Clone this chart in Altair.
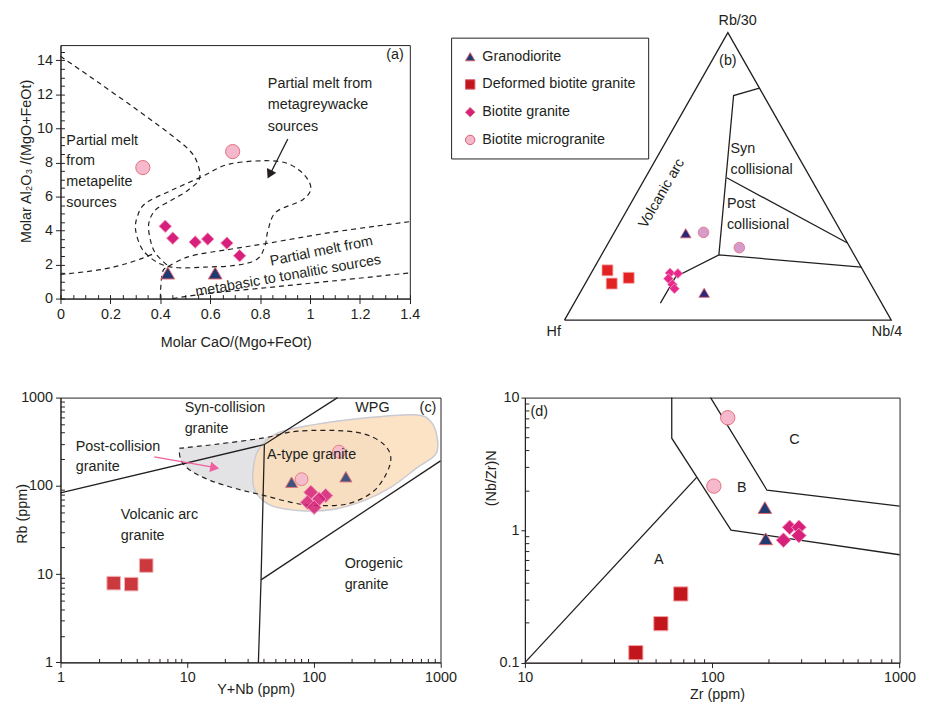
import altair as alt
import pandas as pd

FONT = "Liberation Sans"
INK = "#231f20"
FS = 14.5

GROUPS = ["Granodiorite", "Deformed biotite granite", "Biotite granite", "Biotite microgranite"]
SHAPES = ["triangle-up", "square", "diamond", "circle"]
FILLS = ["#1f3b72", "#c3161c", "#d6207b", "#f5b8cd"]
FILLS_B = ["#29287a", "#e32222", "#e8288b", "#d69bcb"]
STROKES = ["#e0646e", "#f2a3a6", "#f59ac0", "#e0707a"]

# ---------------- panel (a) data ----------------
a_gd_x = [0.43, 0.62]
a_gd_y = [1.5, 1.5]
a_bg_x = [0.42, 0.45, 0.54, 0.59, 0.667, 0.718]
a_bg_y = [4.25, 3.55, 3.32, 3.5, 3.26, 2.52]
a_mg_x = [0.33, 0.69]
a_mg_y = [7.7, 8.64]

a_pelite_x = [0.0, 0.511, 0.545, 0.557, 0.511, 0.446, 0.38, 0.354, 0.36, 0.38, 0.433]
a_pelite_y = [14.24, 8.8, 8.1, 7.05, 6.37, 5.79, 5.2, 4.43, 3.46, 2.68, 1.9]
a_left_x = [0.0, 0.17, 0.27, 0.33, 0.38]
a_left_y = [1.42, 1.72, 2.08, 2.38, 2.68]
a_loop_x = [0.681, 0.563, 0.446, 0.34, 0.308, 0.301, 0.321, 0.354, 0.406, 0.472, 0.58, 0.70,
            0.786, 0.819, 0.832, 0.865, 0.97, 1.003, 0.957, 0.865]
a_loop_y = [7.92, 7.14, 6.37, 5.59, 4.81, 4.04, 3.07, 2.48, 2.0, 1.81, 1.85, 1.95,
            2.29, 3.07, 4.04, 5.1, 5.8, 6.57, 7.54, 8.08]
a_basic_up_x = [0.433, 0.511, 0.68, 0.83, 1.09, 1.4]
a_basic_up_y = [1.9, 2.45, 2.9, 3.25, 3.9, 4.52]
a_basic_v_x = [0.40, 0.413, 0.433]
a_basic_v_y = [0.0, 1.7, 1.9]
a_basic_lo_x = [0.45, 0.563, 0.826, 1.088, 1.4]
a_basic_lo_y = [0.0, 0.25, 0.64, 1.03, 1.51]
a_arrow_x = [0.911, 0.845]
a_arrow_y = [9.38, 7.45]
a_head = (0.838, 7.3)

a_text_left = [("Partial melt from", 0.831, 12.6), ("metagreywacke", 0.831, 11.38),
               ("sources", 0.831, 10.1), ("Partial melt", 0.0236, 9.28), ("from", 0.0236, 8.08),
               ("metapelite", 0.0236, 6.85), ("sources", 0.0236, 5.63)]
a_text_center = [("(a)", 1.341, 14.34)]
a_text_rot1 = [("Partial melt from", 1.046, 2.77)]
a_text_rot2 = [("metabasic to tonalitic sources", 0.913, 1.32)]

# ---------------- panel (b) data (Hf, Nb/4, Rb/30 in %) ----------------
b_gd = ([47.8, 52.5], [22.0, 38.0], [30.2, 9.5])
b_def = ([78.2, 79.2, 73.0], [4.5, 8.1, 12.3], [17.3, 12.7, 14.7])
b_bg = ([59.5, 57.2, 61.0, 60.8, 60.9], [24.1, 26.6, 24.6, 26.8, 28.2], [16.4, 16.2, 14.4, 12.4, 10.9])
b_mg = ([42.2, 33.9], [27.3, 40.9], [30.5, 25.2])

b_frame = ([100, 0, 0, 100], [0, 100, 0, 0], [0, 0, 100, 0])
b_arc = ([67.7, 58.4, 41.4, 0.0], [26.4, 26.5, 35.9, 81.6], [5.9, 15.1, 22.7, 18.4])
b_vert = ([41.4, 9.2, 0.0], [35.9, 12.7, 19.3], [22.7, 78.1, 80.7])
b_synpost = ([25.6, 0.0], [24.9, 73.2], [49.5, 26.8])

b_text_center = [("Rb/30", 0.53, 1.04), ("(b)", 0.5, 0.9), ("Hf", -0.033, -0.042), ("Nb/4", 0.987, -0.042)]
b_text_left = [("Syn", 0.508, 0.595), ("collisional", 0.508, 0.523),
               ("Post", 0.497, 0.403), ("collisional", 0.497, 0.33)]
b_text_rot = [("Volcanic arc", 0.298, 0.44)]

# ---------------- panel (c) data ----------------
c_gd_x = [66.7, 179]
c_gd_y = [110, 127]
c_def_x = [2.63, 3.62, 4.75]
c_def_y = [7.9, 7.7, 12.5]
c_bg_x = [94.6, 124, 110, 89, 100.6]
c_bg_y = [84.6, 77.6, 71, 65, 57]
c_mg_x = [80, 158]
c_mg_y = [119, 244]

c_l1_x = [1, 40.7, 154]
c_l1_y = [83, 294, 1000]
c_l2_x = [36.5, 38.3, 40.7]
c_l2_y = [1, 8.6, 294]
c_l3_x = [38.3, 1000]
c_l3_y = [8.6, 192]
c_post_x = [8.7, 9.0, 10.7, 15.5, 25, 40.7, 66, 100.7, 184, 299, 392, 392, 299, 184, 74.5, 40.7, 16.4, 9.5]
c_post_y = [259, 192, 148, 114, 92, 77.6, 65, 60, 62.5, 88, 161, 248, 350, 417, 417, 350, 294, 270]
c_atype_x = [32.9, 36, 51.8, 100.7, 249, 618, 834, 942, 914, 656, 404, 249, 136, 74.5, 45.8, 34.9]
c_atype_y = [125, 248, 398, 494, 587, 640, 540, 350, 227, 161, 96, 68, 53.5, 52.7, 60, 84.6]
c_arrow_x = [5.5, 15.5]
c_arrow_y = [213, 164]
c_head = (16.5, 161)

c_text_left = [("Syn-collision", 9.55, 760), ("granite", 9.55, 442), ("Post-collision", 1.32, 277),
               ("granite", 1.32, 164), ("A-type granite", 42.7, 224), ("Volcanic arc", 2.99, 46.3),
               ("granite", 2.99, 26.9), ("Orogenic", 175, 12.9), ("granite", 175, 7.59)]
c_text_center = [("WPG", 290, 760), ("(c)", 796, 755)]

# ---------------- panel (d) data ----------------
d_gd_x = [191, 193]
d_gd_y = [1.48, 0.86]
d_def_x = [67.9, 53.2, 39.1]
d_def_y = [0.33, 0.197, 0.119]
d_bg_x = [259, 290, 290, 240]
d_bg_y = [1.05, 1.05, 0.91, 0.84]
d_mg_x = [121, 102]
d_mg_y = [7.05, 2.15]

d_la_x = [10, 82.6]
d_la_y = [0.1, 2.5]
d_lb_x = [60.8, 60.8, 126, 1000]
d_lb_y = [10, 4.94, 1.0, 0.652]
d_lc_x = [98, 196, 1000]
d_lc_y = [10, 2.0, 1.52]

d_text_left = [("(d)", 10.7, 7.82)]
d_text_center = [("C", 275, 4.8), ("B", 143.6, 2.09), ("A", 51.8, 0.592)]

# ---------------- helpers ----------------
LEGEND = alt.Legend(title=None, orient="none", legendX=394.5, legendY=-7.5, labelFont=FONT,
                    labelFontSize=FS, labelColor=INK, symbolSize=90, rowPadding=13, padding=12,
                    strokeColor=INK, fillColor="white", symbolStrokeColor="#d0606a",
                    symbolStrokeWidth=1, labelOffset=5)
COLOR_ENC = alt.Color("group:N", scale=alt.Scale(domain=GROUPS, range=FILLS), legend=LEGEND)
SHAPE_ENC = alt.Shape("group:N", scale=alt.Scale(domain=GROUPS, range=SHAPES), legend=LEGEND)


def seg_df(segs):
    rows = []
    for name, xs, ys in segs:
        for i, (x, y) in enumerate(zip(xs, ys)):
            rows.append({"seg": name, "ord": i, "x": x, "y": y})
    return pd.DataFrame(rows)


def text_df(items):
    return pd.DataFrame([{"x": x, "y": y, "t": t} for t, x, y in items])


def enc(xs, ys):
    return dict(x=alt.X("x:Q", scale=xs, axis=None), y=alt.Y("y:Q", scale=ys, axis=None))


def lines(segs, xs, ys, **mk):
    return alt.Chart(seg_df(segs)).mark_line(**mk).encode(
        **enc(xs, ys), detail="seg:N", order="ord:Q")


def texts(items, xs, ys, **mk):
    style = dict(font=FONT, fontSize=FS, color=INK, baseline="middle")
    style.update(mk)
    return alt.Chart(text_df(items)).mark_text(**style).encode(**enc(xs, ys), text="t:N")


def points(groups, xs, ys, sizes, opacity=1.0):
    out = []
    for g, px, py in groups:
        i = GROUPS.index(g)
        df = pd.DataFrame({"x": px, "y": py, "group": g})
        out.append(alt.Chart(df).mark_point(filled=True, size=sizes[i], stroke=STROKES[i],
                                            strokeWidth=1, opacity=opacity).encode(
            **enc(xs, ys), color=COLOR_ENC, shape=SHAPE_ENC))
    return out


def axes(xs, ys, xaxis, yaxis, x0, y0):
    df = pd.DataFrame({"x": [x0], "y": [y0]})
    return alt.Chart(df).mark_point(opacity=0).encode(
        x=alt.X("x:Q", scale=xs, axis=xaxis), y=alt.Y("y:Q", scale=ys, axis=yaxis))


def minor(orient, offset, values):
    return alt.Axis(orient=orient, offset=offset, values=values, labels=False, domain=False,
                    tickSize=4, title=None, grid=False)


# ---------------- panel (a) ----------------
WA, HA = 352.8, 256
xa = alt.Scale(domain=[0, 1.4], nice=False, zero=False)
ya = alt.Scale(domain=[0, 14.9], nice=False, zero=False)
a_main = axes(xa, ya,
              alt.Axis(orient="bottom", values=[0, 0.2, 0.4, 0.6, 0.8, 1, 1.2, 1.4], format="~g",
                       labelFlush=False, tickSize=5, labelPadding=4, title="Molar CaO/(Mgo+FeOt)",
                       titleX=177, titleY=44, titleBaseline="middle"),
              alt.Axis(orient="left", values=[0, 2, 4, 6, 8, 10, 12, 14], format="d", tickSize=5,
                       labelPadding=3, title="Molar Al₂O₃ /(MgO+FeOt)", titleX=-34.5, titleY=117,
                       titleBaseline="middle"),
              0, 0)
a_minor = axes(xa, ya,
               minor("top", -HA, [round(0.05 * i, 2) for i in range(29)]),
               minor("right", -WA, [0.5 * i for i in range(30)]),
               0, 0)
a_dash = lines([("pelite", a_pelite_x, a_pelite_y), ("left", a_left_x, a_left_y),
                ("up", a_basic_up_x, a_basic_up_y), ("v", a_basic_v_x, a_basic_v_y),
                ("lo", a_basic_lo_x, a_basic_lo_y)],
               xa, ya, color=INK, strokeWidth=1.2, strokeDash=[5, 4], interpolate="catmull-rom")
a_loop = lines([("loop", a_loop_x, a_loop_y)], xa, ya, color=INK, strokeWidth=1.2,
               strokeDash=[5, 4], interpolate="cardinal-closed")
a_arrow = lines([("arrow", a_arrow_x, a_arrow_y)], xa, ya, color=INK, strokeWidth=1.3)
a_arrowhead = alt.Chart(pd.DataFrame({"x": [a_head[0]], "y": [a_head[1]]})).mark_point(
    shape="triangle-down", angle=26.5, filled=True, size=110, color=INK, opacity=1).encode(**enc(xa, ya))
a_layers = [a_main, a_minor, a_dash, a_loop, a_arrow, a_arrowhead]
a_layers += points([("Granodiorite", a_gd_x, a_gd_y), ("Biotite granite", a_bg_x, a_bg_y),
                    ("Biotite microgranite", a_mg_x, a_mg_y)], xa, ya, [190, 190, 160, 205])
a_layers += [texts(a_text_left, xa, ya, align="left"), texts(a_text_center, xa, ya, align="center"),
             texts(a_text_rot1, xa, ya, align="center", angle=348.5),
             texts(a_text_rot2, xa, ya, align="center", angle=350)]
panel_a = alt.layer(*a_layers).resolve_axis(x="independent", y="independent").properties(
    width=WA, height=HA)

# ---------------- panel (b) ----------------
WB, HB = 374, 256
xb = alt.Scale(domain=[-0.12121, 1.01212], nice=False, zero=False)
yb = alt.Scale(domain=[0.07475, 0.9566], nice=False, zero=False)
TX = "(datum.nb + datum.rb / 2) / (datum.hf + datum.nb + datum.rb)"
TY = "datum.rb / (datum.hf + datum.nb + datum.rb)"


def tern_lines(segs, **mk):
    rows = []
    for name, (hf, nb, rb) in segs:
        for i in range(len(hf)):
            rows.append({"seg": name, "ord": i, "hf": hf[i], "nb": nb[i], "rb": rb[i]})
    return alt.Chart(pd.DataFrame(rows)).transform_calculate(x=TX, y=TY).mark_line(**mk).encode(
        **enc(xb, yb), detail="seg:N", order="ord:Q")


b_layers = [tern_lines([("frame", b_frame), ("arc", b_arc), ("vert", b_vert), ("sp", b_synpost)],
                       color=INK, strokeWidth=1.3)]
for g, (hf, nb, rb) in [("Granodiorite", b_gd), ("Deformed biotite granite", b_def),
                        ("Biotite granite", b_bg), ("Biotite microgranite", b_mg)]:
    i = GROUPS.index(g)
    df = pd.DataFrame({"hf": hf, "nb": nb, "rb": rb, "group": g})
    b_layers.append(alt.Chart(df).transform_calculate(x=TX, y=TY).mark_point(
        filled=True, size=[115, 121, 100, 115][i], stroke=STROKES[i], strokeWidth=0.8, opacity=1).encode(
        **enc(xb, yb),
        fill=alt.Fill("group:N", scale=alt.Scale(domain=GROUPS, range=FILLS_B), legend=None),
        shape=SHAPE_ENC))
b_layers += [texts(b_text_center, xb, yb, align="center"), texts(b_text_left, xb, yb, align="left"),
             texts(b_text_rot, xb, yb, align="center", angle=300)]
panel_b = alt.layer(*b_layers).properties(width=WB, height=HB,
                                          view=alt.ViewBackground(strokeOpacity=0))

# ---------------- panel (c) ----------------
WC, HC = 383.8, 267.4
xc = alt.Scale(type="log", domain=[1, 1000], nice=False)
yc = alt.Scale(type="log", domain=[1, 1000], nice=False)
MINOR_LOG = [2, 3, 4, 5, 6, 7, 8, 9, 20, 30, 40, 50, 60, 70, 80, 90, 200, 300, 400, 500, 600, 700, 800, 900]
c_main = axes(xc, yc,
              alt.Axis(orient="bottom", values=[1, 10, 100, 1000], format="~g", labelFlush=False,
                       tickSize=5, labelPadding=3, title="Y+Nb (ppm)", titleX=197, titleY=27,
                       titleBaseline="middle"),
              alt.Axis(orient="left", values=[1, 10, 100, 1000], format="~g", tickSize=5,
                       labelPadding=3, title="Rb (ppm)", titleX=-38.5, titleY=117,
                       titleBaseline="middle"),
              10, 10)
c_minor = axes(xc, yc, minor("top", -HC, MINOR_LOG), minor("right", -WC, MINOR_LOG), 10, 10)
c_gray = lines([("post", c_post_x, c_post_y)], xc, yc, fill="#e3e3e5", strokeOpacity=0,
               interpolate="cardinal-closed")
c_orange = lines([("atype", c_atype_x, c_atype_y)], xc, yc, fill="#fbdcb8", fillOpacity=0.8,
                 color="#c9cad3", strokeWidth=1.5, interpolate="cardinal-closed")
c_dash = lines([("post", c_post_x, c_post_y)], xc, yc, color=INK, strokeWidth=1.2,
               strokeDash=[5, 4], interpolate="cardinal-closed")
c_solid = lines([("l1", c_l1_x, c_l1_y), ("l2", c_l2_x, c_l2_y), ("l3", c_l3_x, c_l3_y)], xc, yc,
                color=INK, strokeWidth=1.3)
c_arrow = lines([("arrow", c_arrow_x, c_arrow_y)], xc, yc, color="#f0609f", strokeWidth=1.5)
c_arrowhead = alt.Chart(pd.DataFrame({"x": [c_head[0]], "y": [c_head[1]]})).mark_point(
    shape="triangle-right", angle=10, filled=True, size=110, color="#f0609f", opacity=1).encode(**enc(xc, yc))
c_layers = [c_main, c_minor, c_gray, c_orange, c_dash, c_solid, c_arrow, c_arrowhead]
c_layers += points([("Granodiorite", c_gd_x, c_gd_y), ("Deformed biotite granite", c_def_x, c_def_y),
                    ("Biotite granite", c_bg_x, c_bg_y), ("Biotite microgranite", c_mg_x, c_mg_y)],
                   xc, yc, [150, 187, 210, 169], opacity=0.85)
c_layers += [texts(c_text_left, xc, yc, align="left"), texts(c_text_center, xc, yc, align="center")]
panel_c = alt.layer(*c_layers).resolve_axis(x="independent", y="independent").properties(
    width=WC, height=HC)

# ---------------- panel (d) ----------------
WD, HD = 378.4, 267.7
xd = alt.Scale(type="log", domain=[10, 1000], nice=False)
yd = alt.Scale(type="log", domain=[0.1, 10], nice=False)
d_main = axes(xd, yd,
              alt.Axis(orient="bottom", values=[10, 100, 1000], format="~g", labelFlush=False,
                       tickSize=5, labelPadding=3, title="Zr (ppm)", titleX=194, titleY=32,
                       titleBaseline="middle"),
              alt.Axis(orient="left", values=[0.1, 1, 10], format="~g", tickSize=4,
                       labelPadding=2, title="(Nb/Zr)N", titleX=-34, titleY=81,
                       titleBaseline="middle"),
              100, 1)
d_minor = axes(xd, yd,
               minor("top", -HD, [20, 30, 40, 50, 60, 70, 80, 90, 200, 300, 400, 500, 600, 700, 800, 900]),
               minor("right", -WD, [0.2, 0.3, 0.4, 0.5, 0.6, 0.7, 0.8, 0.9, 2, 3, 4, 5, 6, 7, 8, 9]),
               100, 1)
d_solid = lines([("a", d_la_x, d_la_y), ("b", d_lb_x, d_lb_y), ("c", d_lc_x, d_lc_y)], xd, yd,
                color=INK, strokeWidth=1.3)
d_layers = [d_main, d_minor, d_solid]
d_layers += points([("Granodiorite", d_gd_x, d_gd_y), ("Deformed biotite granite", d_def_x, d_def_y),
                    ("Biotite granite", d_bg_x, d_bg_y), ("Biotite microgranite", d_mg_x, d_mg_y)],
                   xd, yd, [188, 205, 220, 210])
d_layers += [texts(d_text_left, xd, yd, align="left"), texts(d_text_center, xd, yd, align="center")]
panel_d = alt.layer(*d_layers).resolve_axis(x="independent", y="independent").properties(
    width=WD, height=HD)

# ---------------- layout ----------------
chart = alt.concat(panel_a, panel_b, panel_c, panel_d, columns=2, bounds="flush",
                   spacing={"row": 100, "column": 85}).properties(
    padding={"left": 6, "top": 1, "right": 0, "bottom": 0}
).configure(font=FONT).configure_axis(
    labelFont=FONT, titleFont=FONT, labelFontSize=FS, titleFontSize=FS, titleFontWeight="normal",
    labelColor=INK, titleColor=INK, domainColor=INK, tickColor=INK, grid=False
).configure_view(stroke=INK, strokeWidth=1)

chart.save("out.html", embed_options={"renderer": "svg", "actions": False})
